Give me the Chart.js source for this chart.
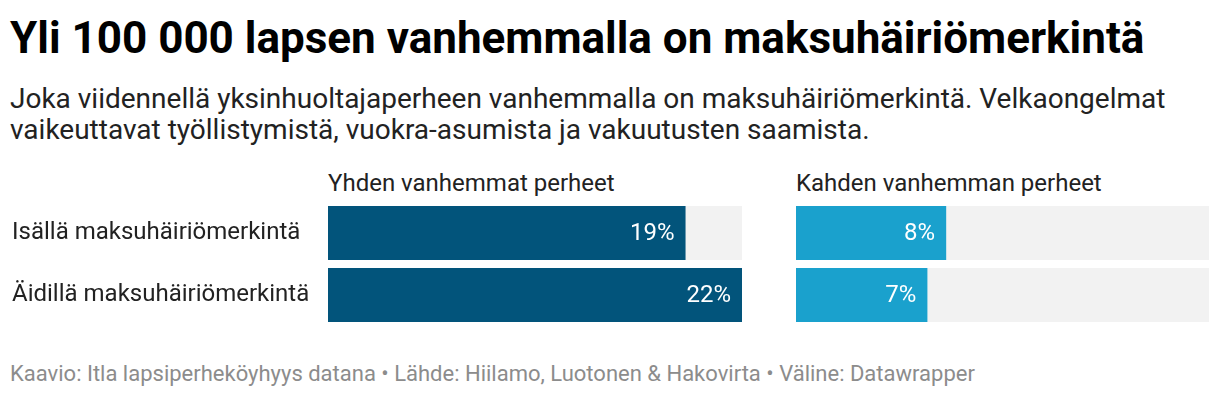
<!DOCTYPE html>
<html>
<head>
<meta charset="utf-8">
<script src="https://cdn.jsdelivr.net/npm/chart.js@4/dist/chart.umd.min.js"></script>
<style>
  html, body { margin: 0; padding: 0; background: #fff; }
  body { width: 1220px; height: 398px; position: relative; overflow: hidden; font-family: Roboto, "Noto Sans", sans-serif; }
  .title { position: absolute; left: 10px; top: 15px; font-size: 44px; font-weight: 700; color: #000; line-height: 46px; white-space: nowrap; }
  .sub { position: absolute; left: 10px; top: 83px; font-size: 28px; color: #222; line-height: 31px; white-space: nowrap; }
  .head { position: absolute; top: 169px; font-size: 24px; color: #222; line-height: 28px; white-space: nowrap; }
  .foot { position: absolute; left: 10px; top: 362px; font-size: 22px; color: #8c8c8c; line-height: 24px; white-space: nowrap; }
  .box { position: absolute; }
</style>
</head>
<body>
<div class="title">Yli 100 000 lapsen vanhemmalla on maksuhäiriömerkintä</div>
<div class="sub">Joka viidennellä yksinhuoltajaperheen vanhemmalla on maksuhäiriömerkintä. Velkaongelmat<br>vaikeuttavat työllistymistä, vuokra-asumista ja vakuutusten saamista.</div>
<div class="head" style="left:328px;">Yhden vanhemmat perheet</div>
<div class="head" style="left:796px;">Kahden vanhemman perheet</div>
<div class="box" style="left:0px; top:202px; width:742px; height:124px;"><canvas id="c1"></canvas></div>
<div class="box" style="left:796px; top:202px; width:413px; height:124px;"><canvas id="c2"></canvas></div>
<div class="foot">Kaavio: Itla lapsiperheköyhyys datana • Lähde: Hiilamo, Luotonen &amp; Hakovirta • Väline: Datawrapper</div>
<script>
const categories = ["Isällä maksuhäiriömerkintä", "Äidillä maksuhäiriömerkintä"];
const panelTitles = ["Yhden vanhemmat perheet", "Kahden vanhemman perheet"];
const singleParent = [19, 22];
const twoParent = [8, 7];
const axisMax = 22;

const valueLabels = {
  id: 'valueLabels',
  afterDatasetsDraw(chart) {
    const ctx = chart.ctx;
    const meta = chart.getDatasetMeta(0);
    const data = chart.data.datasets[0].data;
    ctx.save();
    ctx.font = '24px Roboto, "Noto Sans", sans-serif';
    ctx.fillStyle = '#ffffff';
    ctx.textAlign = 'right';
    ctx.textBaseline = 'middle';
    meta.data.forEach((bar, i) => {
      ctx.fillText(data[i] + '%', bar.x - 11, bar.y + 1);
    });
    ctx.restore();
  }
};

function makeChart(id, values, color, showLabels) {
  return new Chart(document.getElementById(id), {
    type: 'bar',
    data: {
      labels: categories,
      datasets: [
        { data: values, backgroundColor: color, grouped: false, order: 0,
          barPercentage: 0.871, categoryPercentage: 1.0 },
        { data: categories.map(() => axisMax), backgroundColor: '#f2f2f2', grouped: false, order: 1,
          barPercentage: 0.871, categoryPercentage: 1.0 }
      ]
    },
    options: {
      indexAxis: 'y',
      responsive: true,
      maintainAspectRatio: false,
      animation: false,
      events: [],
      layout: { padding: { left: showLabels ? 12 : 0, right: 0, top: 0, bottom: 0 } },
      plugins: { legend: { display: false }, tooltip: { enabled: false } },
      scales: {
        x: { display: false, min: 0, max: axisMax },
        y: {
          display: showLabels,
          grid: { display: false },
          border: { display: false },
          ticks: {
            crossAlign: 'far',
            color: '#222',
            font: { family: 'Roboto, "Noto Sans", sans-serif', size: 24 },
            padding: 0
          },
          afterFit(scale) {
            if (showLabels) {
              scale.width = 316;
              scale.paddingTop = 0;
              scale.paddingBottom = 0;
            }
          }
        }
      }
    },
    plugins: [valueLabels]
  });
}

makeChart('c1', singleParent, '#02547b', true);
makeChart('c2', twoParent, '#1aa1cd', false);
</script>
</body>
</html>
